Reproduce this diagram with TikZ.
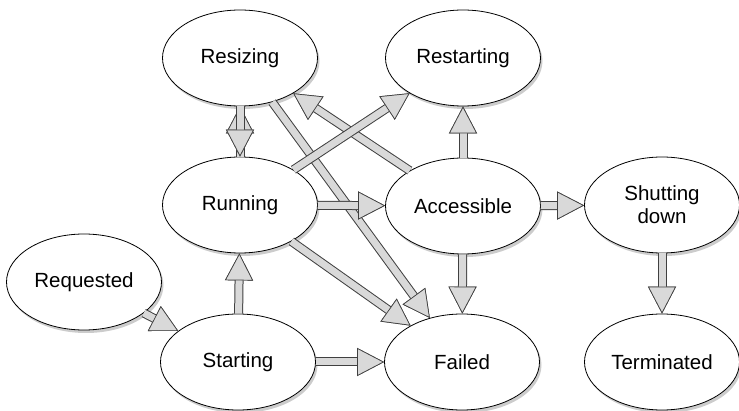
\documentclass[tikz,border=0pt]{standalone}
\usepackage{fontspec}
\setmainfont{Liberation Sans}
\usetikzlibrary{arrows.meta,shapes.geometric,shadows}

\tikzset{
  state/.style={ellipse, draw, fill=white, line width=0.8pt,
    minimum width=155pt, minimum height=96pt, inner sep=0pt, align=center,
    font=\fontsize{20.5}{23}\selectfont,
    drop shadow={shadow xshift=2pt, shadow yshift=-3pt, opacity=0.4}},
  flowtip/.style={-{Triangle[length=27pt, width=28pt, color=gray!50!black, fill=gray!30, line width=0.7pt]}},
  flow/.style={flowtip, draw=gray!30, line width=7pt,
    preaction={flowtip, draw=gray!50!black, line width=9pt}},
}

\begin{document}
\begin{tikzpicture}[x=1pt, y=-1pt]
  \useasboundingbox (0,0) rectangle (739,411);
  % Coordinates
  \coordinate (Z) at (240, 58);
  \coordinate (R) at (463, 58);
  \coordinate (U) at (240, 205);
  \coordinate (A) at (463, 206);
  \coordinate (S) at (662, 205);
  \coordinate (Q) at (84, 282);
  \coordinate (T) at (238, 362);
  \coordinate (F) at (462, 362);
  \coordinate (X) at (662, 362);

  % Drawing
  \node[state] (resizing) at (Z) {Resizing};
  \node[state] (restarting) at (R) {Restarting};
  \node[state] (running) at (U) {Running};
  \node[state] (accessible) at (A) {Accessible};
  \node[state] (shutting) at (S) {Shutting\\down};
  \node[state] (requested) at (Q) {Requested};
  \node[state] (starting) at (T) {Starting};
  \node[state] (failed) at (F) {Failed};
  \node[state] (terminated) at (X) {Terminated};

  \draw[flow] (running) -- (resizing);
  \draw[flow] (resizing) -- (running);
  \draw[flow] (resizing) -- (failed);
  \draw[flow] (accessible) -- (resizing);
  \draw[flow] (running) -- (restarting);
  \draw[flow] (running) -- (accessible);
  \draw[flow] (running) -- (failed);
  \draw[flow] (accessible) -- (restarting);
  \draw[flow] (accessible) -- (shutting);
  \draw[flow] (accessible) -- (failed);
  \draw[flow] (shutting) -- (terminated);
  \draw[flow] (requested) -- (starting);
  \draw[flow] (starting) -- (running);
  \draw[flow] (starting) -- (failed);
\end{tikzpicture}
\end{document}
